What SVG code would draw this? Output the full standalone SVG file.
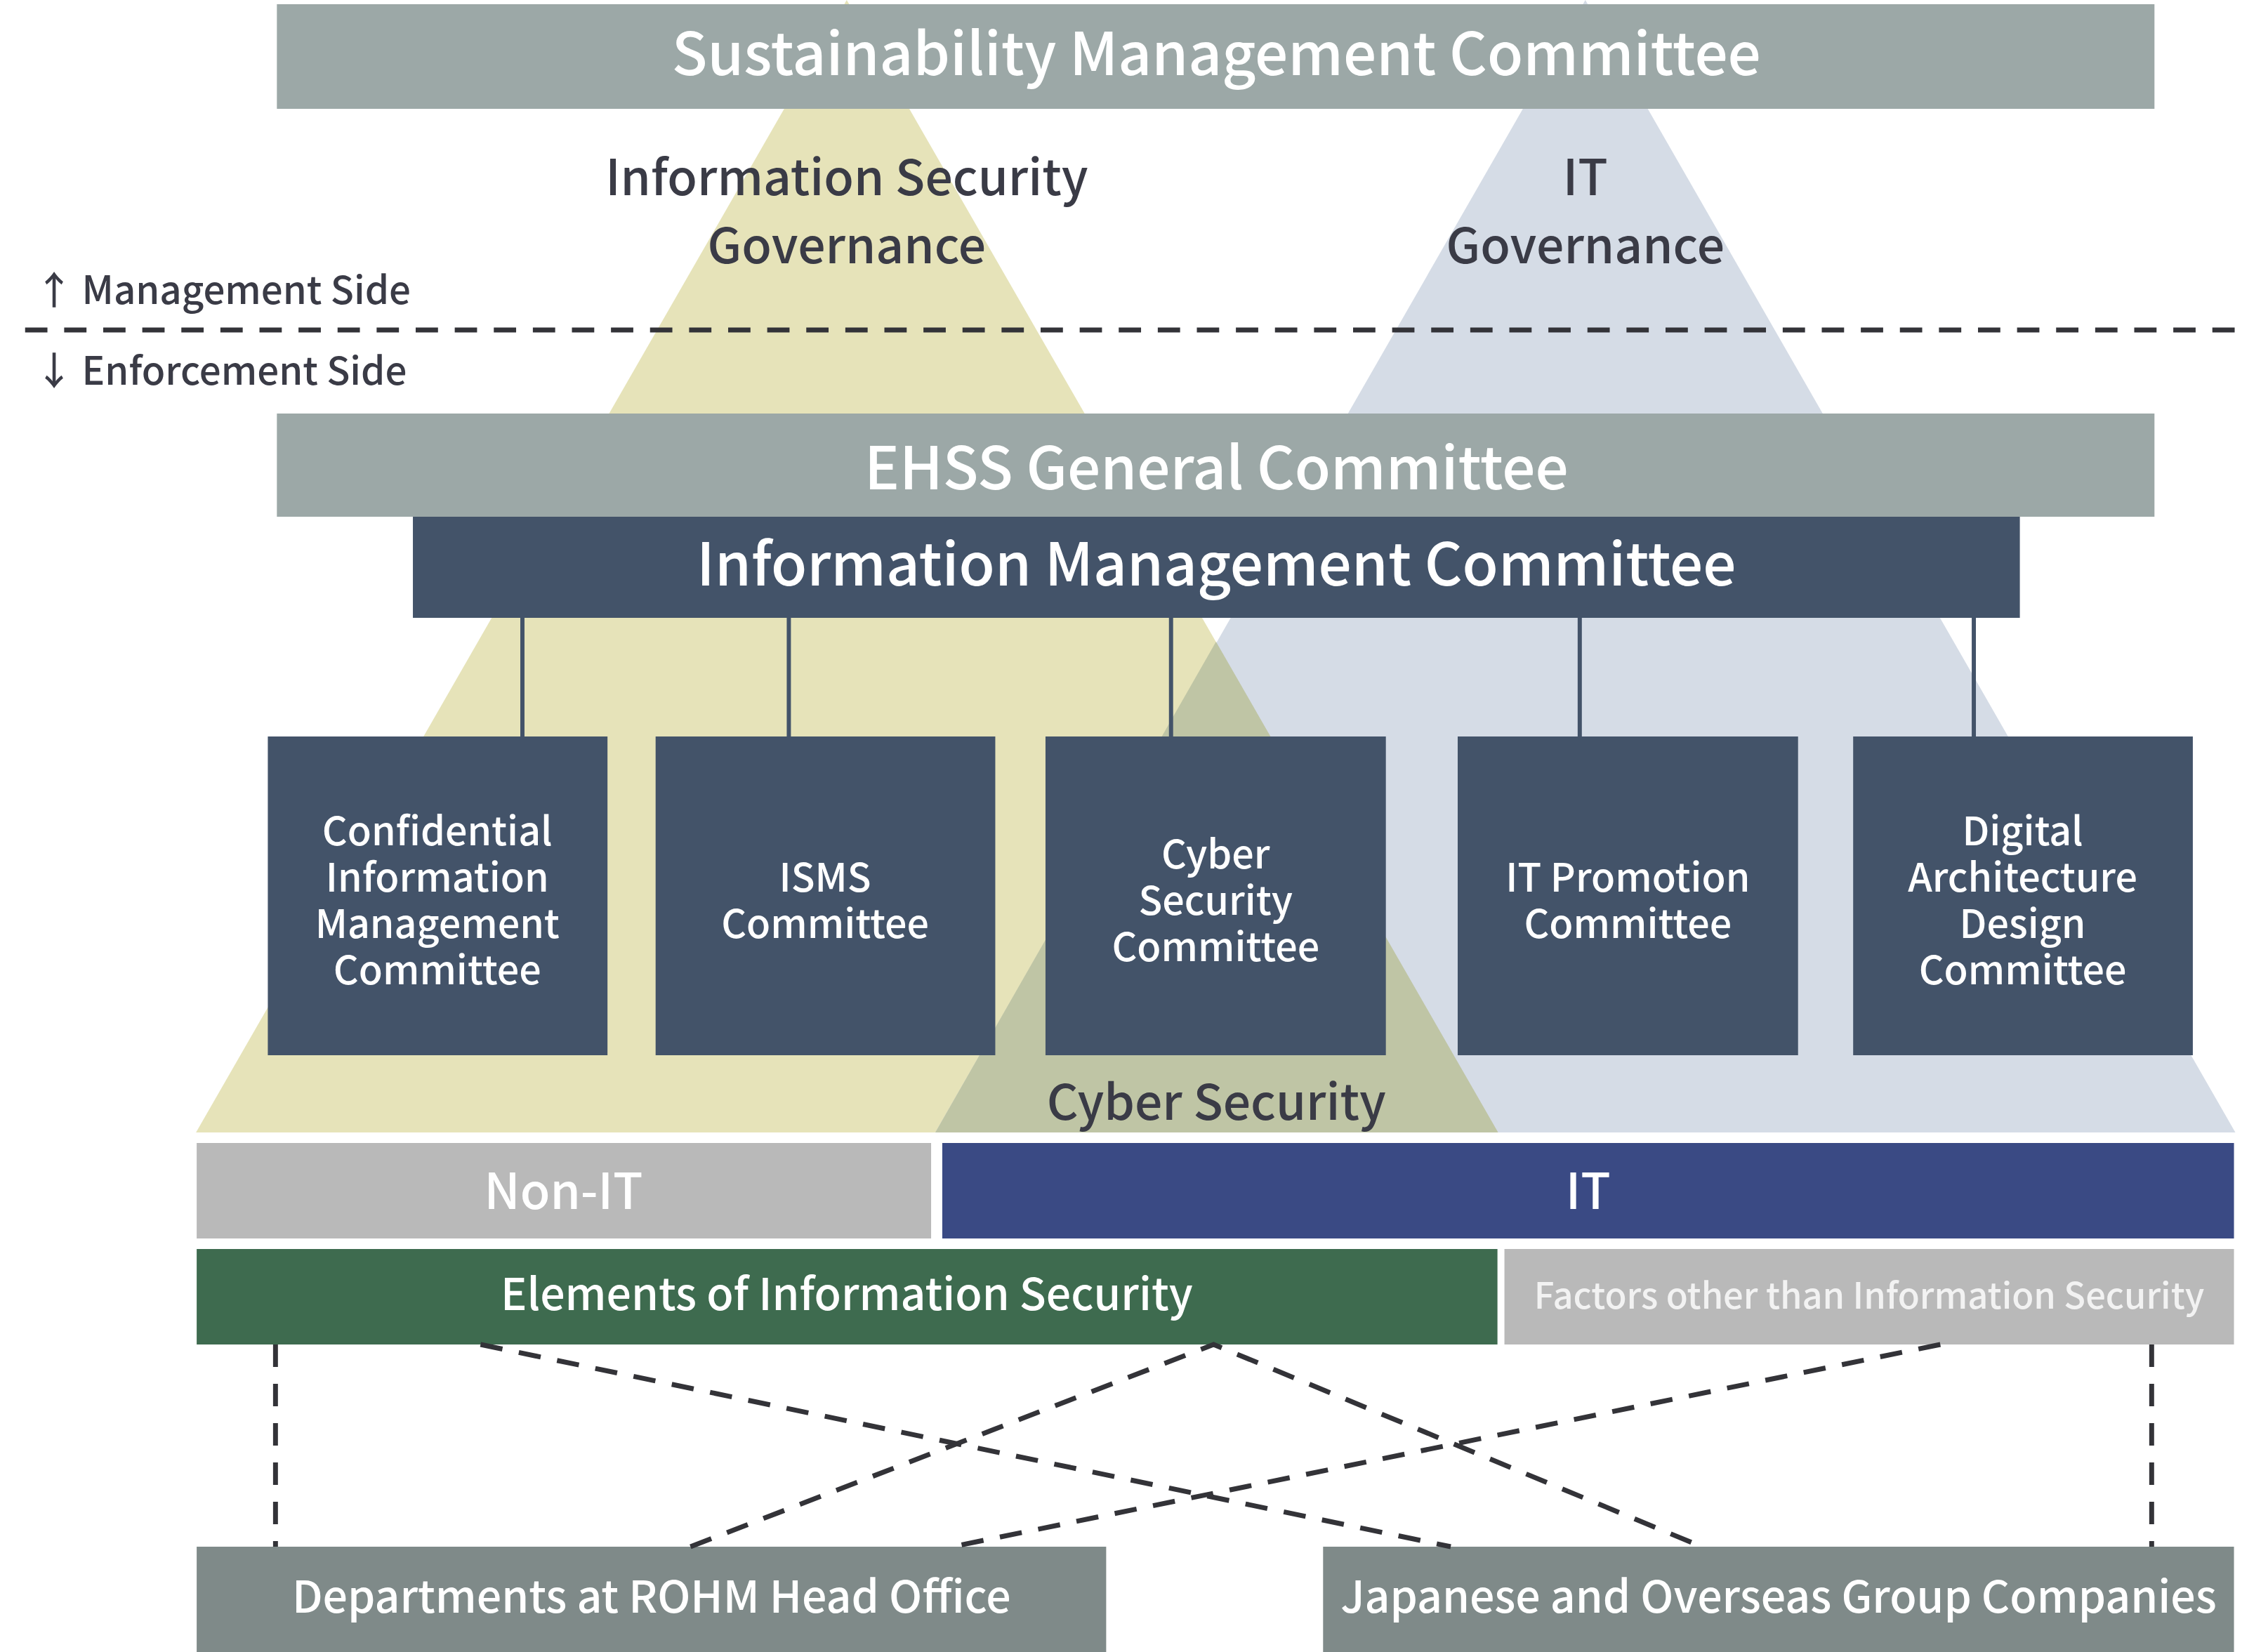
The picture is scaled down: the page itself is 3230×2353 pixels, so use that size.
<svg xmlns="http://www.w3.org/2000/svg" width="3230" height="2353" viewBox="0 0 3230 2353">
<style>
text{font-family:"Noto Sans CJK JP","Noto Sans",sans-serif;font-weight:500;text-anchor:middle}
.w{fill:#ffffff}
.d{fill:#3a3b46}
.bar{fill:#9ca8a7}
.navy{fill:#435369}
.t84{font-size:84px}
.t70{font-size:70px}
.t64{font-size:63px}
.t56{font-size:56px}
.side{font-size:55px;text-anchor:start}
.conn{stroke:#435369;stroke-width:6;fill:none}
.dash{stroke:#333338;stroke-width:7;fill:none;stroke-dasharray:32 24}
</style>
<rect width="3230" height="2353" fill="#ffffff"/>
<g transform="scale(0.9933,1)">
<g id="pyramids">
<polygon points="1214,0 281,1613 2148,1613" fill="#e6e3b9"/>
<polygon points="2273,0 1341,1613 3205,1613" fill="#d5dce6"/>
<polygon points="1743.5,914 1341,1613 2148,1613" fill="#bfc5a5"/>
</g>
<g id="sustainability"><rect x="397" y="6" width="2692" height="149" class="bar"/>
<text x="1744" y="107" class="t84 w">Sustainability Management Committee</text></g>
<g id="isgov"><text x="1214" y="278" class="t70 d">Information Security</text><text x="1214" y="375" class="t70 d">Governance</text></g>
<g id="itgov"><text x="2273" y="278" class="t70 d">IT</text><text x="2273" y="375" class="t70 d">Governance</text></g>
<g id="sides">
<text x="50" y="433" class="side d">↑ Management Side</text>
<text x="50" y="548" class="side d">↓ Enforcement Side</text>
</g>
<g id="ehss"><rect x="397" y="589" width="2692" height="147" class="bar"/>
<text x="1744" y="697" class="t84 w">EHSS General Committee</text></g>
<g id="imc"><rect x="592" y="736" width="2304" height="144" class="navy"/>
<text x="1744" y="834" class="t84 w">Information Management Committee</text></g>
<g id="c1"><rect x="384" y="1049" width="487" height="454" class="navy"/>
<text x="627" y="1204" class="t56 w">Confidential</text><text x="627" y="1270" class="t56 w">Information</text><text x="627" y="1336" class="t56 w">Management</text><text x="627" y="1402" class="t56 w">Committee</text></g>
<g id="c2"><rect x="940" y="1049" width="487" height="454" class="navy"/>
<text x="1183" y="1270" class="t56 w">ISMS</text><text x="1183" y="1336" class="t56 w">Committee</text></g>
<g id="c3"><rect x="1499" y="1049" width="488" height="454" class="navy"/>
<text x="1743" y="1237" class="t56 w">Cyber</text><text x="1743" y="1303" class="t56 w">Security</text><text x="1743" y="1369" class="t56 w">Committee</text></g>
<g id="c4"><rect x="2090" y="1049" width="488" height="454" class="navy"/>
<text x="2334" y="1270" class="t56 w">IT Promotion</text><text x="2334" y="1336" class="t56 w">Committee</text></g>
<g id="c5"><rect x="2657" y="1049" width="487" height="454" class="navy"/>
<text x="2900" y="1204" class="t56 w">Digital</text><text x="2900" y="1270" class="t56 w">Architecture</text><text x="2900" y="1336" class="t56 w">Design</text><text x="2900" y="1402" class="t56 w">Committee</text></g>
<g id="cyber"><text x="1744" y="1595" class="t70 d">Cyber Security</text></g>
<g id="nonit"><rect x="282" y="1628" width="1053" height="136" fill="#b9b9b9"/><text x="808" y="1722" class="t70 w">Non-IT</text></g>
<g id="it"><rect x="1351" y="1628" width="1852" height="136" fill="#3a4a84"/><text x="2277" y="1722" class="t70 w">IT</text></g>
<g id="elements"><rect x="282" y="1779" width="1865" height="136" fill="#3e6b4f"/><text x="1214" y="1866" class="t64 w">Elements of Information Security</text></g>
<g id="factors"><rect x="2157" y="1779" width="1046" height="136" fill="#b9b9b9"/><text x="2680" y="1864" font-size="51" fill="#f2f2f2">Factors other than Information Security</text></g>
<g id="hq"><rect x="282" y="2203" width="1304" height="150" fill="#7f8a89"/><text x="934" y="2297" class="t64 w">Departments at ROHM Head Office</text></g>
<g id="group"><rect x="1897" y="2203" width="1306" height="150" fill="#7f8a89"/><text x="2550" y="2297" class="t64 w">Japanese and Overseas Group Companies</text></g>
<g id="connectors">
<line x1="36" y1="470" x2="3207" y2="470" class="dash"/>
<line x1="749" y1="880" x2="749" y2="1049" class="conn"/>
<line x1="1131" y1="880" x2="1131" y2="1049" class="conn"/>
<line x1="1679" y1="880" x2="1679" y2="1049" class="conn"/>
<line x1="2265" y1="880" x2="2265" y2="1049" class="conn"/>
<line x1="2830" y1="880" x2="2830" y2="1049" class="conn"/>
<line x1="395" y1="1915" x2="395" y2="2203" class="dash"/>
<line x1="689" y1="1915" x2="2080" y2="2203" class="dash"/>
<polyline points="990,2203 1740,1915 2440,2203" class="dash"/>
<line x1="2782" y1="1915" x2="1366" y2="2203" class="dash"/>
<line x1="3085" y1="1915" x2="3085" y2="2203" class="dash"/>
</g>
</g>
</svg>
